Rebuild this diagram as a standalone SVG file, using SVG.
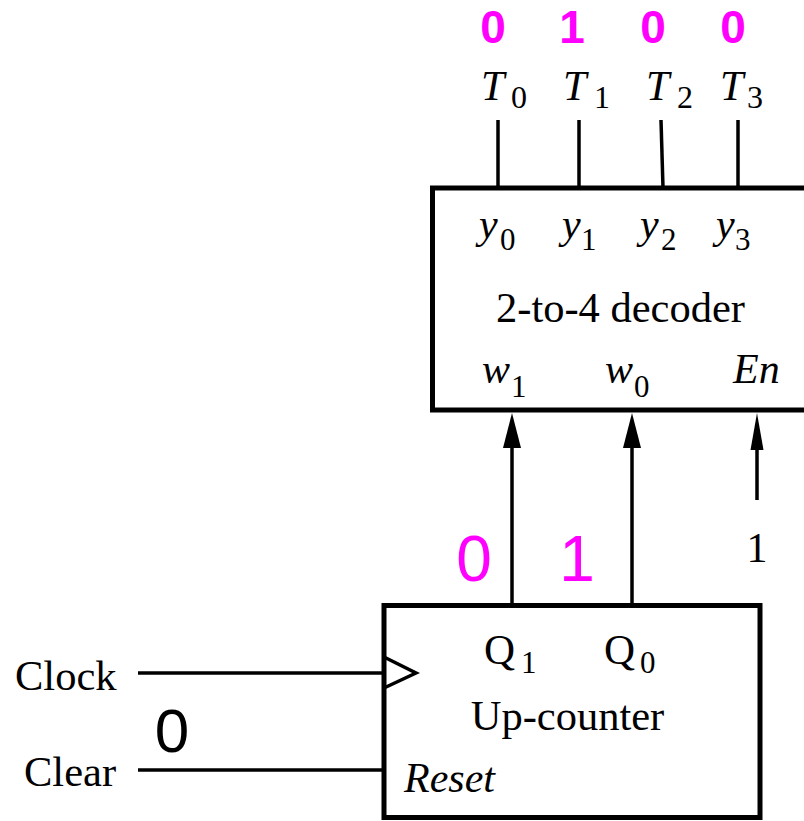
<svg xmlns="http://www.w3.org/2000/svg" width="804" height="821" viewBox="0 0 804 821">
<style>
.box{fill:#fff;stroke:#000;stroke-width:5}
.w{stroke:#000;stroke-width:3.5;fill:none}
.s{font-family:"Liberation Serif","Times New Roman",serif;fill:#000}
.i{font-style:italic}
.m{font-family:"Liberation Sans",Arial,sans-serif;fill:#f0f}
.k{font-family:"Liberation Sans",Arial,sans-serif;fill:#000}
</style>
<g id="connectors">
<line class="w" x1="498" y1="120" x2="498" y2="188"/>
<line class="w" x1="579" y1="120" x2="579" y2="188"/>
<line class="w" x1="661" y1="120" x2="663" y2="188"/>
<line class="w" x1="738" y1="120" x2="738" y2="188"/>
<path d="M512,448 L512,605" class="w"/>
<path d="M632,448 L632,605" class="w"/>
<path d="M757,450 L757,500" class="w"/>
<path d="M503,448 L512,413 L521,448 Z" fill="#000"/>
<path d="M623,448 L632,413 L641,448 Z" fill="#000"/>
<path d="M750.5,450 L757,413 L763.5,450 Z" fill="#000"/>
<line class="w" x1="138" y1="673" x2="384" y2="673"/>
<line class="w" x1="138" y1="770" x2="384" y2="770"/>
</g>
<g id="decoder">
<rect class="box" x="432.5" y="188" width="400" height="222"/>
<text class="s i" x="479" y="238" font-size="42">y</text><text class="s" x="500" y="250" font-size="31">0</text>
<text class="s i" x="562" y="238" font-size="42">y</text><text class="s" x="581" y="250" font-size="31">1</text>
<text class="s i" x="640" y="238" font-size="42">y</text><text class="s" x="661" y="250" font-size="31">2</text>
<text class="s i" x="716" y="238" font-size="42">y</text><text class="s" x="735" y="250" font-size="31">3</text>
<text class="s" x="620.5" y="322" font-size="42.5" text-anchor="middle">2-to-4 decoder</text>
<text class="s i" x="482" y="383" font-size="42">w</text><text class="s" x="511" y="397" font-size="31">1</text>
<text class="s i" x="605" y="383" font-size="42">w</text><text class="s" x="634" y="397" font-size="31">0</text>
<text class="s i" x="733" y="383" font-size="42">En</text>
</g>
<g id="outputs">
<text class="m" x="493" y="43" font-size="46" font-weight="bold" text-anchor="middle">0</text>
<text class="m" x="572" y="43" font-size="46" font-weight="bold" text-anchor="middle">1</text>
<text class="m" x="653" y="43" font-size="46" font-weight="bold" text-anchor="middle">0</text>
<text class="m" x="733" y="43" font-size="46" font-weight="bold" text-anchor="middle">0</text>
<text class="s i" x="481" y="100" font-size="42">T</text><text class="s" x="511" y="108" font-size="32">0</text>
<text class="s i" x="563" y="100" font-size="42">T</text><text class="s" x="594" y="108" font-size="32">1</text>
<text class="s i" x="646" y="100" font-size="42">T</text><text class="s" x="677" y="108" font-size="32">2</text>
<text class="s i" x="720" y="100" font-size="42">T</text><text class="s" x="747" y="108" font-size="32">3</text>
</g>
<g id="counter">
<rect class="box" x="384" y="605.5" width="376" height="212"/>
<path d="M384,657 L416,673 L384,688" class="w"/>
<text class="s" x="484" y="664" font-size="43">Q</text><text class="s" x="521" y="673" font-size="31">1</text>
<text class="s" x="604" y="664" font-size="43">Q</text><text class="s" x="640" y="673" font-size="31">0</text>
<text class="s" x="567.5" y="730" font-size="42.5" text-anchor="middle">Up-counter</text>
<text class="s i" x="404" y="792" font-size="42">Reset</text>
</g>
<g id="inputs">
<text class="s" x="15" y="690" font-size="42.5">Clock</text>
<text class="s" x="24" y="786" font-size="42.5">Clear</text>
<text class="k" x="172" y="752" font-size="62" text-anchor="middle">0</text>
<text class="m" x="474" y="581" font-size="64" text-anchor="middle">0</text>
<text class="m" x="577" y="581" font-size="64" text-anchor="middle">1</text>
<text class="s" x="757" y="562" font-size="42" text-anchor="middle">1</text>
</g>
</svg>
